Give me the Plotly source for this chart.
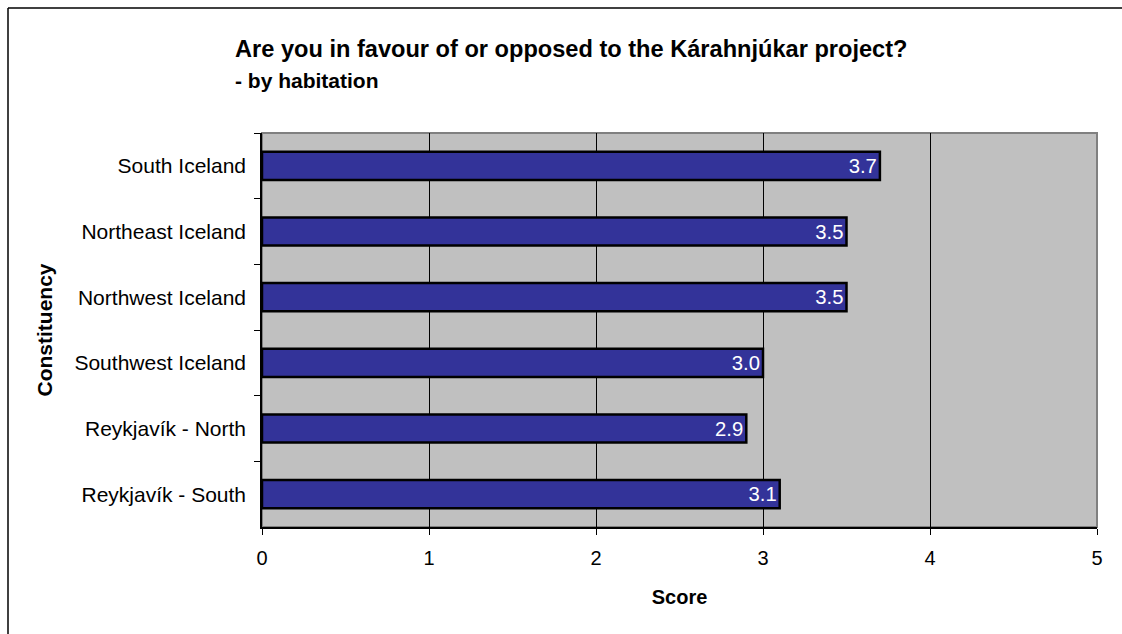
import plotly.graph_objects as go

# Constituencies, top to bottom, and their mean scores
constituencies = [
    "South Iceland",
    "Northeast Iceland",
    "Northwest Iceland",
    "Southwest Iceland",
    "Reykjavík - North",
    "Reykjavík - South",
]
scores = [3.7, 3.5, 3.5, 3.0, 2.9, 3.1]
x_ticks = [0, 1, 2, 3, 4, 5]

FONT = "Liberation Sans, Arial, sans-serif"

fig = go.Figure(
    go.Bar(
        y=constituencies,
        x=scores,
        orientation="h",
        marker=dict(color="#333399", line=dict(color="black", width=2.5)),
        text=[f"{v:.1f}" for v in scores],
        textposition="inside",
        insidetextanchor="end",
        textfont=dict(color="white", size=21, family=FONT),
        cliponaxis=False,
    )
)

fig.update_layout(
    width=1122,
    height=634,
    margin=dict(l=262, r=25, t=133, b=107),
    paper_bgcolor="white",
    plot_bgcolor="#C0C0C0",
    bargap=0.57,
    showlegend=False,
    font=dict(family=FONT, color="black", size=21),
    annotations=[
        dict(
            text="<b>Are you in favour of or opposed to the Kárahnjúkar project?</b>",
            xref="paper", yref="paper",
            x=(233 - 262) / 835, y=1 + (133 - 49) / 394,
            xanchor="left", yanchor="middle",
            showarrow=False,
            font=dict(size=23.6, family=FONT),
        ),
        dict(
            text="<b>- by habitation</b>",
            xref="paper", yref="paper",
            x=(233 - 262) / 835, y=1 + (133 - 80) / 394,
            xanchor="left", yanchor="middle",
            showarrow=False,
            font=dict(size=21, family=FONT),
        ),
    ],
    shapes=[
        # plot area frame
        dict(type="rect", xref="paper", yref="paper", x0=0, x1=1, y0=0, y1=1,
             line=dict(color="#808080", width=2), layer="below"),
        # chart border (top and left edges)
        dict(type="line", xref="paper", yref="paper",
             x0=(8 - 262) / 835, x1=(1130 - 262) / 835,
             y0=1 + (133 - 8) / 394, y1=1 + (133 - 8) / 394,
             line=dict(color="black", width=1.5)),
        dict(type="line", xref="paper", yref="paper",
             x0=(8 - 262) / 835, x1=(8 - 262) / 835,
             y0=1 + (133 - 8) / 394, y1=-(640 - 527) / 394,
             line=dict(color="black", width=1.5)),
    ],
)

fig.update_xaxes(
    range=[0, 5],
    tickvals=x_ticks,
    ticktext=[str(t) for t in x_ticks],
    showgrid=True,
    gridcolor="black",
    gridwidth=1,
    zeroline=False,
    showline=True,
    linecolor="black",
    linewidth=1.5,
    ticks="outside",
    ticklen=6,
    tickcolor="black",
    tickfont=dict(size=20),
    ticklabelstandoff=6,
    title=dict(text="<b>Score</b>", font=dict(size=20), standoff=22),
)

fig.update_yaxes(
    autorange="reversed",
    type="category",
    showgrid=False,
    zeroline=False,
    showline=True,
    linecolor="black",
    linewidth=1.5,
    ticks="outside",
    tickson="boundaries",
    ticklen=6,
    tickcolor="black",
    tickfont=dict(size=21),
    ticklabelstandoff=10,
    title=dict(text="<b>Constituency</b>", font=dict(size=21), standoff=16),
)

fig.write_html("out.html")
